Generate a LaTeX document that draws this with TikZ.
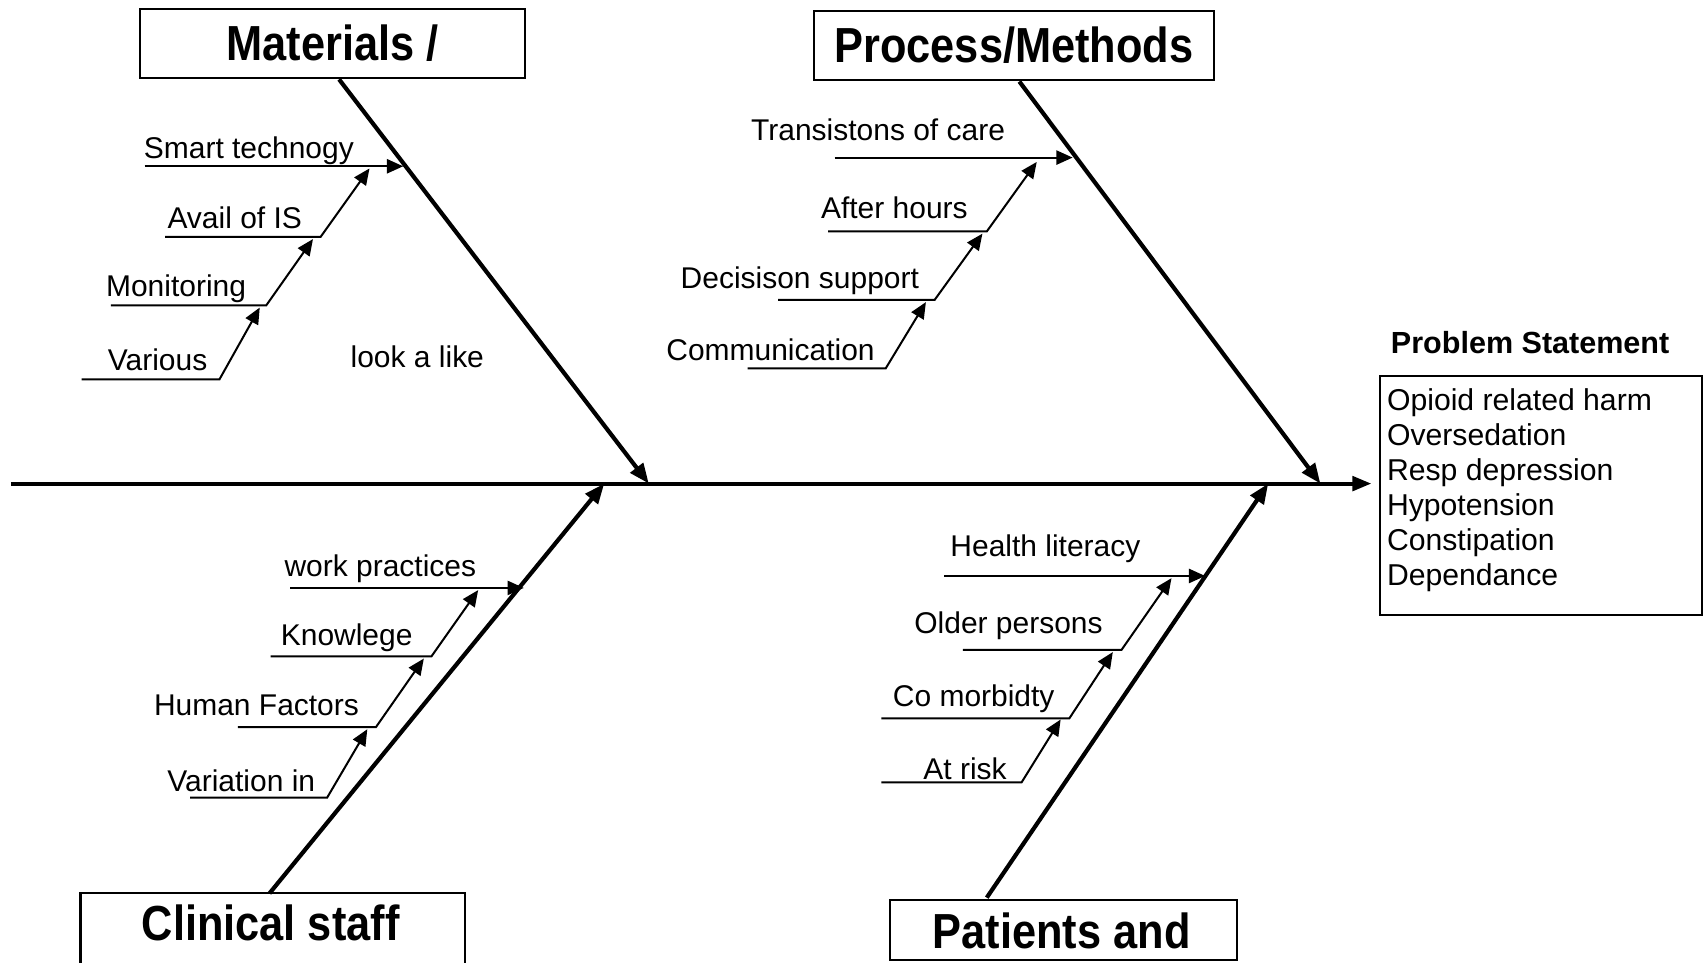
\documentclass[tikz,border=0pt]{standalone}
\usepackage{fontspec}
\setmainfont{Liberation Sans}
\newfontfamily\headfont[FakeStretch=0.88]{Liberation Sans}
\usetikzlibrary{arrows.meta}
\begin{document}
\begin{tikzpicture}[x=0.02cm,y=-0.02cm,
  catbox/.style={draw,line width=1.1pt,inner sep=0pt,font=\headfont\bfseries\fontsize{25.8}{30}\selectfont},
  cattext/.style={inner sep=0pt,font=\headfont\bfseries\fontsize{25.8}{30}\selectfont},
  lbl/.style={inner sep=0pt,font=\fontsize{15.7}{18}\selectfont},
  bone/.style={line width=2.2pt,-{Triangle[length=10.5pt,width=8.2pt]}},
  twig/.style={line width=1.05pt,-{Triangle[length=8.5pt,width=7.4pt]}},
  spine/.style={line width=2.2pt,-{Triangle[length=10pt,width=7.5pt]}}]
\useasboundingbox (0,0) rectangle (1568,886);
\clip (0,0) rectangle (1568,886);
% category boxes
\node[catbox,minimum width=7.08cm,minimum height=1.28cm] (mat) at (306,40) {Materials /};
\node[catbox,minimum width=7.36cm,minimum height=1.28cm] (proc) at (933,42) {Process/Methods};
\node[catbox,minimum width=7.08cm,minimum height=1.6cm] (clinbox) at (251,862) {};
\node[cattext] (clin) at (249,849) {Clinical staff};
\node[catbox,minimum width=6.38cm,minimum height=1.1cm] (pat) at (978.5,855.5) {};
\node[cattext] (pattext) at (977,857) {Patients and};
% problem statement
\node[inner sep=0pt,font=\bfseries\fontsize{16}{19}\selectfont] (probtitle) at (1408,315) {Problem Statement};
\node[draw,line width=1.1pt,minimum width=5.92cm,minimum height=4.4cm,inner sep=0pt] (prob) at (1418,456) {};
\node[anchor=north west,inner sep=0pt,align=left,font=\fontsize{15.8}{18.37}\selectfont] (probtext) at (1276,357)
  {Opioid related harm\\Oversedation\\Resp depression\\Hypotension\\Constipation\\Dependance};
% spine
\coordinate (sp0) at (10,445);
\coordinate (sp1) at (1262,445);
\draw[spine] (sp0) -- (sp1);
% main bones
\coordinate (mt) at (312,73);   \coordinate (mh) at (597,445);
\coordinate (pt) at (938,75);   \coordinate (ph) at (1215,445);
\coordinate (ct) at (248,822);  \coordinate (ch) at (556,445);
\coordinate (qt) at (908,826);  \coordinate (qh) at (1167,445);
\draw[bone] (mt) -- (mh);
\draw[bone] (pt) -- (ph);
\draw[bone] (ct) -- (ch);
\draw[bone] (qt) -- (qh);
% Materials twigs
\node[lbl] (smart) at (229,139) {Smart technogy};
\coordinate (s1) at (133,153); \coordinate (s2) at (371,153);
\draw[twig] (s1) -- (s2);
\node[lbl] (avail) at (216,200) {Avail of IS};
\coordinate (a1) at (152,218); \coordinate (a2) at (295,218); \coordinate (a3) at (340,155);
\draw[twig] (a1) -- (a2) -- (a3);
\node[lbl] (mon) at (162,266) {Monitoring};
\coordinate (m1) at (102,281); \coordinate (m2) at (245,281); \coordinate (m3) at (288,220);
\draw[twig] (m1) -- (m2) -- (m3);
\node[lbl] (var) at (145,331) {Various};
\coordinate (v1) at (75,349); \coordinate (v2) at (202,349); \coordinate (v3) at (239,283);
\draw[twig] (v1) -- (v2) -- (v3);
\node[lbl] (look) at (384,328) {look a like};
% Process twigs
\node[lbl] (trans) at (808,119) {Transistons of care};
\coordinate (t1) at (768,145); \coordinate (t2) at (987,145);
\draw[twig] (t1) -- (t2);
\node[lbl] (after) at (823,191) {After hours};
\coordinate (h1) at (762,213); \coordinate (h2) at (908,213); \coordinate (h3) at (954,149);
\draw[twig] (h1) -- (h2) -- (h3);
\node[lbl] (dec) at (736,258) {Decisison support};
\coordinate (d1) at (716,276); \coordinate (d2) at (860,276); \coordinate (d3) at (904,215);
\draw[twig] (d1) -- (d2) -- (d3);
\node[lbl] (comm) at (709,322) {Communication};
\coordinate (c1) at (688,339); \coordinate (c2) at (815,339); \coordinate (c3) at (852,278);
\draw[twig] (c1) -- (c2) -- (c3);
% Clinical twigs
\node[lbl] (work) at (350,523) {work practices};
\coordinate (w1) at (267,541); \coordinate (w2) at (482,541);
\draw[twig] (w1) -- (w2);
\node[lbl] (know) at (319,587) {Knowlege};
\coordinate (k1) at (249,604); \coordinate (k2) at (397,604); \coordinate (k3) at (440,543);
\draw[twig] (k1) -- (k2) -- (k3);
\node[lbl] (hum) at (236,649) {Human Factors};
\coordinate (f1) at (219,669); \coordinate (f2) at (346,669); \coordinate (f3) at (390,606);
\draw[twig] (f1) -- (f2) -- (f3);
\node[lbl] (varin) at (222,718) {Variation in};
\coordinate (i1) at (175,734); \coordinate (i2) at (301,734); \coordinate (i3) at (338,671);
\draw[twig] (i1) -- (i2) -- (i3);
% Patients twigs
\node[lbl] (health) at (962,505) {Health literacy};
\coordinate (l1) at (869,530); \coordinate (l2) at (1109,530);
\draw[twig] (l1) -- (l2);
\node[lbl] (older) at (928,576) {Older persons};
\coordinate (o1) at (886,598); \coordinate (o2) at (1032,598); \coordinate (o3) at (1078,532);
\draw[twig] (o1) -- (o2) -- (o3);
\node[lbl] (como) at (896,643) {Co morbidty};
\coordinate (r1) at (811,661); \coordinate (r2) at (984,661); \coordinate (r3) at (1024,600);
\draw[twig] (r1) -- (r2) -- (r3);
\node[lbl] (atrisk) at (888,707) {At risk};
\coordinate (x1) at (811,720); \coordinate (x2) at (940,720); \coordinate (x3) at (976,662);
\draw[twig] (x1) -- (x2) -- (x3);
\end{tikzpicture}
\end{document}
